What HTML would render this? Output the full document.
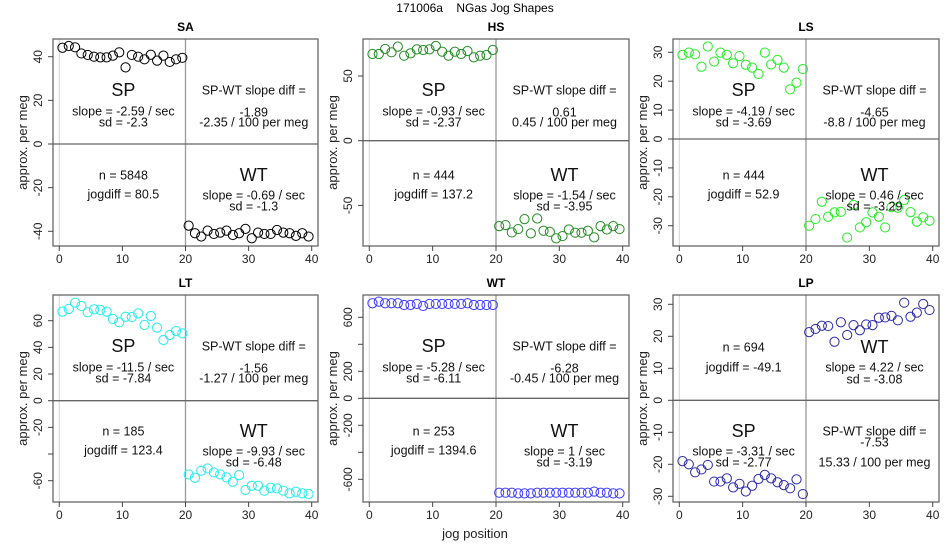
<!DOCTYPE html>
<html><head><meta charset="utf-8"><style>
html,body{margin:0;padding:0;background:#fff;}
svg{display:block;font-family:"Liberation Sans",sans-serif;}
</style></head><body>
<svg id="chart" width="950" height="550" viewBox="0 0 950 550">
<text x="475" y="12" text-anchor="middle" font-size="12" fill="#000" style="white-space:pre">171006a    NGas Jog Shapes</text>
<text x="475" y="538" text-anchor="middle" font-size="13" fill="#222">jog position</text>
</svg>
<script>
const xTicks = [0, 10, 20, 30, 40];
const panelNames = ["SA", "HS", "LS", "LT", "WT", "LP"];
const saSP = [44.1,44.9,44.3,41.5,40.8,40.0,39.7,39.7,40.5,42.0,35.1,40.8,40.0,38.8,40.9,38.2,40.5,37.6,38.8,39.5];
const saWT = [-37.4,-40.9,-42.4,-39.7,-41.2,-40.6,-39.7,-41.7,-40.9,-38.9,-43.2,-40.6,-41.2,-41.2,-39.4,-40.6,-40.9,-42.1,-40.9,-42.4];
const hsSP = [67.0,67.0,70.9,68.3,72.7,65.7,67.5,70.6,70.1,70.6,73.2,68.8,65.7,68.8,67.0,69.3,64.4,65.7,66.2,70.1];
const hsWT = [-66.0,-65.2,-70.9,-68.3,-60.6,-71.6,-60.1,-69.6,-70.4,-75.5,-73.7,-68.6,-71.1,-71.1,-69.6,-74.7,-66.0,-68.6,-66.0,-68.3];
const lsSP = [29.1,29.9,29.3,25.0,32.0,26.8,29.9,29.1,26.2,28.7,25.7,24.7,22.5,29.9,25.8,27.4,24.7,17.2,19.5,24.2];
const lsWT = [-30.0,-27.7,-21.7,-26.9,-25.4,-25.2,-34.1,-22.8,-30.6,-28.8,-25.4,-26.9,-30.6,-23.6,-23.8,-21.1,-25.3,-28.6,-27.1,-28.3];
const ltSP = [66.8,68.8,73.5,71.0,66.3,68.5,68.0,66.8,61.3,58.8,63.0,62.8,65.5,56.8,63.5,54.8,45.5,49.3,52.3,50.5];
const ltWT = [-55.3,-57.8,-52.5,-50.8,-53.8,-55.3,-57.5,-60.8,-55.8,-67.0,-63.8,-63.8,-67.5,-65.3,-65.8,-67.5,-69.5,-68.3,-69.5,-70.0];
const wtSP = [704,716,704,704,704,691,691,699,684,699,699,699,699,699,699,704,691,691,691,691];
const wtWT = [-699,-699,-699,-704,-704,-704,-699,-699,-699,-699,-699,-699,-699,-699,-699,-691,-699,-699,-704,-704];
const lpSP = [-19.0,-20.0,-22.5,-21.6,-20.2,-25.4,-25.4,-24.4,-27.2,-26.1,-28.5,-26.7,-24.6,-23.3,-24.4,-25.6,-26.5,-27.5,-24.7,-29.3];
const lpWT = [21.3,22.3,23.3,23.2,18.3,24.4,20.4,23.5,21.9,23.7,23.5,25.8,25.9,26.4,25.0,30.5,26.1,27.4,30.1,28.2];
const yTicksSA = [-40,-20,0,20,40];
const yTicksHS = [-50,0,50];
const yTicksLS = [-30,-20,-10,0,10,20,30];
const yTicksLT = [-60,-40,-20,0,20,40,60];
const yTicksWT = [-600,-400,-200,0,200,400,600];
const yTicksLP = [-30,-20,-10,0,10,20,30];
const yLabelsLT = ["-60","","-20","0","20","40","60"];
const yLabelsWT = ["-600","","-200","0","200","","600"];
const spSlopes = ["-2.59","-0.93","-4.19","-11.5","-5.28","-3.31"];
const spSds = ["-2.3","-2.37","-3.69","-7.84","-6.11","-2.77"];
const wtSlopes = ["-0.69","-1.54","0.46","-9.93","1","4.22"];
const wtSds = ["-1.3","-3.95","-3.29","-6.48","-3.19","-3.08"];
const diffVals = ["-1.89","0.61","-4.65","-1.56","-6.28","-7.53"];
const diffPerMeg = ["-2.35","0.45","-8.8","-1.27","-0.45","15.33"];
const nVals = ["5848","444","444","185","253","694"];
const jogdiffs = ["80.5","137.2","52.9","123.4","1394.6","-49.1"];

const NS = "http://www.w3.org/2000/svg";
const svg = document.getElementById("chart");
function mk(tag, attrs, parent){ const e=document.createElementNS(NS,tag); for(const k in attrs) e.setAttribute(k,attrs[k]); (parent||svg).appendChild(e); return e; }

const panels = [
 {sp:saSP, wt:saWT, ticks:yTicksSA, labels:null, col:"#000000", box:[53,39,318,246], y0:[0,144], y1:[40,56.7], swap:false},
 {sp:hsSP, wt:hsWT, ticks:yTicksHS, labels:null, col:"#228B22", box:[363,39,629,246], y0:[0,140.7], y1:[50,76], swap:false},
 {sp:lsSP, wt:lsWT, ticks:yTicksLS, labels:null, col:"#22ee22", box:[673,39,939,246], y0:[0,139], y1:[30,52.3], swap:false},
 {sp:ltSP, wt:ltWT, ticks:yTicksLT, labels:yLabelsLT, col:"#22eeee", box:[53,295,318,502], y0:[0,400.7], y1:[60,320.7], swap:false},
 {sp:wtSP, wt:wtWT, ticks:yTicksWT, labels:yLabelsWT, col:"#3a3aff", box:[363,295,629,502], y0:[0,398.3], y1:[600,317.3], swap:false},
 {sp:lpSP, wt:lpWT, ticks:yTicksLP, labels:null, col:"#2a2aaa", box:[673,295,939,502], y0:[0,400.3], y1:[30,304.3], swap:true}
];

panels.forEach((p, i) => {
  const [L,T,R,B] = p.box;
  const x0px = L + 6.3, x40px = R - 6.3;
  const xs = v => x0px + (v/40)*(x40px-x0px);
  const k = (p.y1[1]-p.y0[1])/(p.y1[0]-p.y0[0]);
  const ys = v => p.y0[1] + (v - p.y0[0])*k;
  const g = mk("g", {});
  
  
  const t = mk("text", {x:(L+R)/2, y:T-8, "text-anchor":"middle", "font-size":"12", "font-weight":"bold", fill:"#000"}, g);
  t.textContent = panelNames[i];
  
  
  const l0 = mk("line", {x1:xs(0), x2:xs(0), y1:T, y2:B, stroke:"#d3d3d3", "stroke-width":"1"}, g);
  
  
  const l20 = mk("line", {x1:xs(20), x2:xs(20), y1:T, y2:B, stroke:"#999", "stroke-width":"1.3"}, g);
  
  
  const lh = mk("line", {x1:L, x2:R, y1:ys(0), y2:ys(0), stroke:"#666", "stroke-width":"1.3"}, g);
  
  
  const box = mk("rect", {x:L, y:T, width:R-L, height:B-T, fill:"none", stroke:"#666", "stroke-width":"1.3"}, g);
  
  
  xTicks.forEach(v => {
    const tl = mk("line", {x1:xs(v), x2:xs(v), y1:B, y2:B+5, stroke:"#444"}, g);
    
    
    const tx = mk("text", {x:xs(v), y:B+17, "text-anchor":"middle", "font-size":"12", fill:"#222"}, g);
    tx.textContent = v;
    
    
  });
  p.ticks.forEach((v, j) => {
    const y = ys(v);
    const tl = mk("line", {x1:L-5, x2:L, y1:y, y2:y, stroke:"#444"}, g);
    
    
    const lab = p.labels ? p.labels[j] : String(v);
    if (lab) {
      const tx = mk("text", {x:0, y:0, "text-anchor":"middle", "font-size":"12", fill:"#222", transform:`translate(${L-11},${y}) rotate(-90)`}, g);
      tx.textContent = lab;
      
      
    }
  });
  const yt = mk("text", {x:0, y:0, "text-anchor":"middle", "font-size":"13", fill:"#222", transform:`translate(${L-26},${(T+B)/2}) rotate(-90)`}, g);
  yt.textContent = "approx. per meg";
  
  
  p.sp.forEach((v, j) => {
    const c = mk("circle", {cx:xs(j+0.5), cy:ys(v), r:4.6, fill:"none", stroke:p.col, "stroke-width":"1"}, g);
    
    
  });
  p.wt.forEach((v, j) => {
    const c = mk("circle", {cx:xs(j+20.5), cy:ys(v), r:4.6, fill:"none", stroke:p.col, "stroke-width":"1"}, g);
    
    
  });
  const cxL = (xs(0)+xs(20))/2 + 1, cxR = (xs(20)+R)/2 + 2;
  const txt = (x, y, s, size, name) => {
    const e = mk("text", {x:x, y:y, "text-anchor":"middle", "dominant-baseline":"middle", "font-size":size, fill:"#111"}, g);
    e.textContent = s;
    
    
  };
  if (!p.swap) {
    txt(cxL, T+52, "SP", 18, "sp-label");
    txt(cxL, T+73, "slope = " + spSlopes[i] + " / sec", 12.5, "sp-slope");
    txt(cxL, T+84, "sd = " + spSds[i], 12.5, "sp-sd");
    txt(cxR, T+52, "SP-WT slope diff =", 12.5, "slope-diff-header");
    txt(cxR, T+74, diffVals[i], 12.5, "slope-diff-value");
    txt(cxR, T+84, diffPerMeg[i] + " / 100 per meg", 12.5, "slope-diff-per-meg");
    txt(cxL, T+137, "n = " + nVals[i], 12.5, "n-count");
    txt(cxL, T+156, "jogdiff = " + jogdiffs[i], 12.5, "jogdiff");
    txt(cxR, T+137, "WT", 18, "wt-label");
    txt(cxR, T+157, "slope = " + wtSlopes[i] + " / sec", 12.5, "wt-slope");
    txt(cxR, T+168, "sd = " + wtSds[i], 12.5, "wt-sd");
  } else {
    txt(cxL, T+53, "n = " + nVals[i], 12.5, "n-count");
    txt(cxL, T+73, "jogdiff = " + jogdiffs[i], 12.5, "jogdiff");
    txt(cxR, T+53, "WT", 18, "wt-label");
    txt(cxR, T+73, "slope = " + wtSlopes[i] + " / sec", 12.5, "wt-slope");
    txt(cxR, T+85, "sd = " + wtSds[i], 12.5, "wt-sd");
    txt(cxL, T+137, "SP", 18, "sp-label");
    txt(cxL, T+157, "slope = " + spSlopes[i] + " / sec", 12.5, "sp-slope");
    txt(cxL, T+168, "sd = " + spSds[i], 12.5, "sp-sd");
    txt(cxR, T+137, "SP-WT slope diff =", 12.5, "slope-diff-header");
    txt(cxR, T+148, diffVals[i], 12.5, "slope-diff-value");
    txt(cxR, T+168, diffPerMeg[i] + " / 100 per meg", 12.5, "slope-diff-per-meg");
  }
});
</script>
</body></html>
